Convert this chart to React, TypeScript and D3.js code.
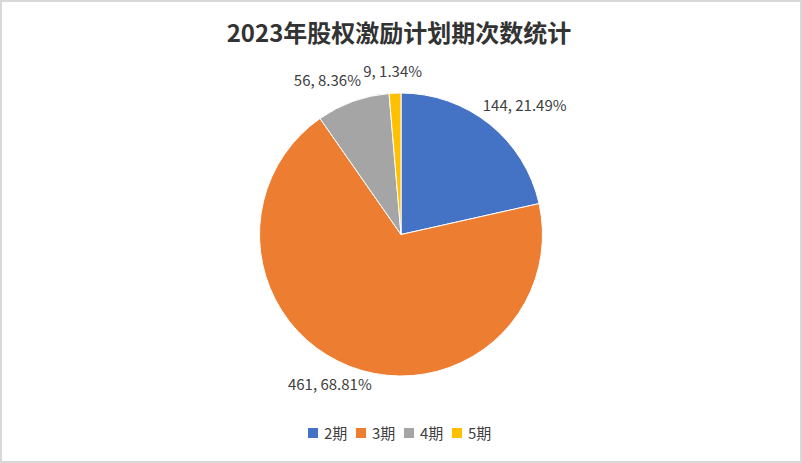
import React from 'react';
import * as d3 from 'd3';

const categories = ['2期', '3期', '4期', '5期'];
const counts = [144, 461, 56, 9];
const colors = ['#4472C4', '#ED7D31', '#A5A5A5', '#FFC000'];
const title = '2023年股权激励计划期次数统计';

const W = 802;
const H = 463;
const cx = 401;
const cy = 234.5;
const radius = 141.5;

// label placement per slice: anchor and nudge relative to a point just outside the arc
const labelStyle = [
  { anchor: 'start', dx: -12, dy: -6 },
  { anchor: 'end', dx: 25, dy: 16 },
  { anchor: 'end', dx: 11, dy: -7 },
  { anchor: 'middle', dx: -2, dy: -8 },
];

const App: React.FC = () => {
  const total = d3.sum(counts);
  const pie = d3.pie<number>().sort(null).value(d => d);
  const arcs = pie(counts);
  const arc = d3.arc<d3.PieArcDatum<number>>().innerRadius(0).outerRadius(radius);
  const labelArc = d3.arc<d3.PieArcDatum<number>>().innerRadius(150).outerRadius(150);

  const font = '"Noto Sans CJK SC", "Noto Sans", sans-serif';

  return (
    <svg
      width={W}
      height={H}
      style={{ position: 'absolute', left: 0, top: 0, background: '#fff' }}
    >
      <rect x={1} y={1} width={W - 2} height={H - 2} fill="#fff" stroke="#d9d9d9" strokeWidth={2} />
      <text
        x={W / 2 - 2}
        y={42}
        textAnchor="middle"
        fontFamily={font}
        fontWeight="bold"
        fontSize={24}
        fill="#333333"
      >
        {title}
      </text>

      <g transform={`translate(${cx},${cy})`}>
        {arcs.map((a, i) => (
          <path key={categories[i]} d={arc(a) || ''} fill={colors[i]} stroke="#fff" strokeWidth={1} />
        ))}
        {arcs.map((a, i) => {
          const [lx, ly] = labelArc.centroid(a);
          const s = labelStyle[i];
          const pct = ((counts[i] / total) * 100).toFixed(2);
          return (
            <text
              key={'l' + i}
              x={lx + s.dx}
              y={ly + s.dy}
              textAnchor={s.anchor}
              fontFamily={font}
              fontSize={15}
              fill="#404040"
            >
              {`${counts[i]}, ${pct}%`}
            </text>
          );
        })}
      </g>

      <g transform="translate(308,428)">
        {categories.map((c, i) => (
          <g key={c} transform={`translate(${i * 48},0)`}>
            <rect width={10} height={10} fill={colors[i]} />
            <text x={16} y={10.5} fontFamily={font} fontSize={15} fill="#404040">
              {c}
            </text>
          </g>
        ))}
      </g>
    </svg>
  );
};

export default App;
